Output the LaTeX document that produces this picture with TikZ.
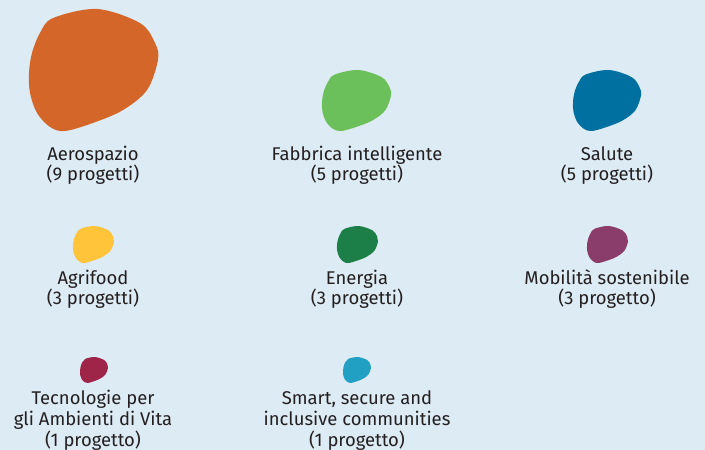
\documentclass[tikz,border=0pt]{standalone}
\usepackage{fontspec}
\setmainfont{Fira Sans}
\definecolor{bg}{HTML}{DDEBF4}
\definecolor{txt}{HTML}{231F20}
\definecolor{caero}{HTML}{D4662A}
\definecolor{cfab}{HTML}{6CC05C}
\definecolor{csal}{HTML}{0070A0}
\definecolor{cagri}{HTML}{FFC43A}
\definecolor{cener}{HTML}{1B7F47}
\definecolor{cmob}{HTML}{8A3D6A}
\definecolor{ctec}{HTML}{9E2547}
\definecolor{csmart}{HTML}{21A0C4}
\tikzset{
  lbl/.style={align=center, anchor=base, inner sep=0pt, text=txt,
    font=\fontsize{18.5}{20.7}\selectfont},
  pics/blob/.style={code={
    \fill[#1] plot[smooth cycle, tension=0.55] coordinates {
      (0.186,0.074) (0.527,0) (0.86,0.115) (0.977,0.279) (1,0.418)
      (0.915,0.664) (0.729,0.828) (0.496,0.934) (0.279,1) (0.163,0.967)
      (0.062,0.852) (0.008,0.689) (0,0.525) (0.023,0.361) (0.085,0.197)};
  }}
}
\begin{document}
\begin{tikzpicture}[x=1bp,y=-1bp]
\fill[bg] (0,0) rectangle (705,450);
\useasboundingbox (0,0) rectangle (705,450);
% blobs
\pic[xscale=129,yscale=122] at (29,9) {blob=caero};
\pic[xscale=69,yscale=61] at (322,70) {blob=cfab};
\pic[xscale=68,yscale=61] at (573,70) {blob=csal};
\pic[xscale=41,yscale=37] at (73,226) {blob=cagri};
\pic[xscale=41,yscale=37] at (337,226) {blob=cener};
\pic[xscale=41,yscale=37] at (587,226) {blob=cmob};
\pic[xscale=28,yscale=26] at (80,357) {blob=ctec};
\pic[xscale=28,yscale=26] at (343,357) {blob=csmart};
% labels (anchor = baseline of last line)
\node[lbl] (aero) at (93,181) {Aerospazio\\(9 progetti)};
\node[lbl] (fab) at (357,181) {Fabbrica intelligente\\(5 progetti)};
\node[lbl] (sal) at (607,181) {Salute\\(5 progetti)};
\node[lbl] (agri) at (93,305) {Agrifood\\(3 progetti)};
\node[lbl] (ener) at (357,305) {Energia\\(3 progetti)};
\node[lbl] (mob) at (607,305) {Mobilità sostenibile\\(3 progetto)};
\node[lbl] (tec) at (93,446) {Tecnologie per\\gli Ambienti di Vita\\(1 progetto)};
\node[lbl] (smart) at (357,446) {Smart, secure and\\inclusive communities\\(1 progetto)};
\end{tikzpicture}
\end{document}
